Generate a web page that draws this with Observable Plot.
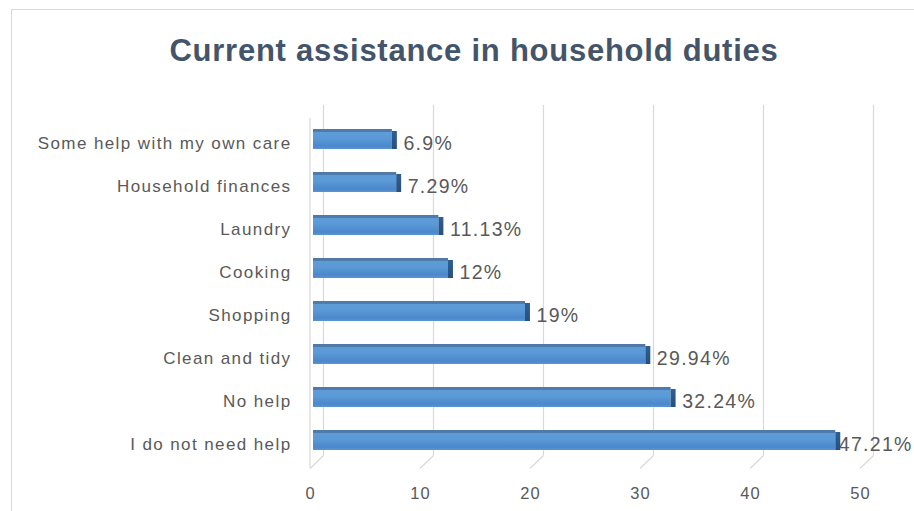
<!DOCTYPE html>
<html>
<head>
<meta charset="utf-8">
<script src="https://cdn.jsdelivr.net/npm/d3@7"></script>
<script src="https://cdn.jsdelivr.net/npm/@observablehq/plot@0.6"></script>
<style>
  html, body { margin: 0; padding: 0; background: #fff; }
  #wrap { position: relative; width: 914px; height: 511px; overflow: hidden; font-family: "Liberation Sans", Arial, sans-serif; }
  #frame { position: absolute; left: 11px; top: 9px; width: 1000px; height: 700px; border: 1.5px solid #D9D9D9; box-sizing: border-box; }
  #title { position: absolute; left: 0; width: 948px; top: 33px; text-align: center; font-weight: bold; font-size: 31px; color: #44546A; letter-spacing: 0.75px; white-space: nowrap; }
  #chart { position: absolute; left: 0; top: 0; }
  g[aria-label="y-axis tick label"] text { letter-spacing: 1.4px; }
  g[aria-label="x-axis tick label"] text { letter-spacing: 1px; }
  g[aria-label="text"] text { letter-spacing: 1.3px; }
</style>
</head>
<body>
<div id="wrap">
  <div id="frame"></div>
  <div id="title">Current assistance in household duties</div>
  <div id="chart"></div>
</div>
<script>
const categories = [
  "Some help with my own care",
  "Household finances",
  "Laundry",
  "Cooking",
  "Shopping",
  "Clean and tidy",
  "No help",
  "I do not need help"
];
const values = [6.9, 7.29, 11.13, 12, 19, 29.94, 32.24, 47.21];
const xTicks = [0, 10, 20, 30, 40, 50];

const data = categories.map((c, i) => ({category: c, value: values[i]}));
const maxValue = d3.max(values);

// back wall & floor of the pseudo-3D chart, positioned with the x scale
function wall(index, scales, values, dimensions) {
  const g = d3.create("svg:g").attr("fill", "none").attr("stroke", "#D9D9D9").attr("stroke-width", 1.2);
  const x = scales.x;
  const yTop = dimensions.marginTop + 1;
  const yBackBottom = dimensions.height - dimensions.marginBottom - 19;
  const yFrontBottom = dimensions.height - dimensions.marginBottom - 6;
  for (const t of xTicks) {
    const xb = x(t) + 7.5, xf = x(t) - 6;
    g.append("line").attr("x1", xb).attr("x2", xb).attr("y1", yTop).attr("y2", yBackBottom);
    g.append("line").attr("x1", xf).attr("x2", xb).attr("y1", yFrontBottom).attr("y2", yBackBottom);
  }
  const x0 = x(0) - 6;
  g.append("line").attr("x1", x0).attr("x2", x0).attr("y1", yTop + 13).attr("y2", yFrontBottom);
  return g.node();
}

const chart = Plot.plot({
  width: 914,
  height: 511,
  marginLeft: 316,
  marginRight: 48,
  marginTop: 104,
  marginBottom: 36.5,
  style: {fontFamily: "'Liberation Sans', Arial, sans-serif", background: "transparent", color: "#595959"},
  x: {domain: [0, 50], ticks: xTicks, tickSize: 0, tickPadding: 12, label: null},
  y: {domain: categories, padding: 0.54, tickSize: 0, tickPadding: 25, label: null},
  marks: [
    wall,
    Plot.axisX({ticks: xTicks, tickSize: 0, tickPadding: 12, dx: -6, fontSize: 16.5, fill: "#595959", label: null}),
    Plot.axisY({tickSize: 0, tickPadding: 25, dy: 4, fontSize: 17, fill: "#595959", label: null}),
    Plot.barX(data, {x: "value", y: "category", fill: "url(#barGrad)", insetLeft: -3}),
    Plot.barX(data, {x1: "value", x2: d => d.value + 0.45, y: "category", fill: "url(#capGrad)", insetTop: 2}),
    Plot.text(data.filter(d => d.value < maxValue), {x: "value", y: "category", text: d => d.value + "%", dx: 11, dy: 4, textAnchor: "start", fontSize: 19.5, fill: "#595959"}),
    Plot.text(data.filter(d => d.value === maxValue), {x: "value", y: "category", text: d => d.value + "%", dx: 3, dy: 4, textAnchor: "start", fontSize: 19.5, fill: "#595959"})
  ]
});

const svg = d3.select(chart);
const defs = svg.insert("defs", ":first-child");
const bg = defs.append("linearGradient").attr("id", "barGrad").attr("x1", 0).attr("y1", 0).attr("x2", 0).attr("y2", 1);
[["0%", "#4F78A6"], ["13%", "#4F7CAE"], ["16%", "#5E9CD8"], ["45%", "#5B9AD6"], ["85%", "#4A88CC"], ["100%", "#5A95D2"]]
  .forEach(([o, c]) => bg.append("stop").attr("offset", o).attr("stop-color", c));
const cg = defs.append("linearGradient").attr("id", "capGrad").attr("x1", 0).attr("y1", 0).attr("x2", 0).attr("y2", 1);
[["0%", "#2F5F91"], ["100%", "#26507E"]]
  .forEach(([o, c]) => cg.append("stop").attr("offset", o).attr("stop-color", c));

document.getElementById("chart").appendChild(chart);
</script>
</body>
</html>
